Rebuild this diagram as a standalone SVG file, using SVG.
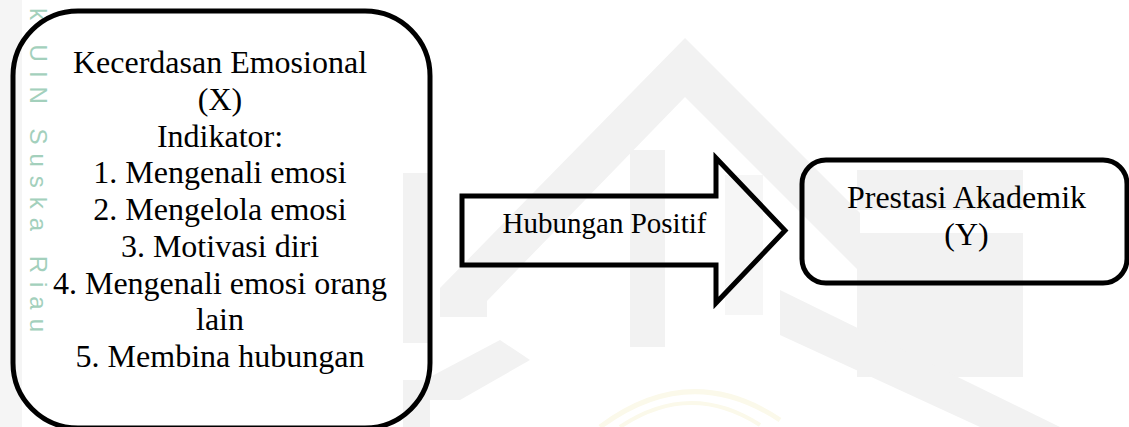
<svg xmlns="http://www.w3.org/2000/svg" width="1129" height="427" viewBox="0 0 1129 427">
  <style>
    .box { fill: none; stroke: #000; stroke-width: 5; }
    .t { font-family: "Liberation Serif", "Times New Roman", serif; font-size: 32px; fill: #000; text-anchor: middle; }
    .wm { fill: #f2f2f2; }
    .wmtext { font-family: "Liberation Sans", Arial, sans-serif; font-size: 24px; fill: #a3d0bc; }
  </style>
  <rect width="1129" height="427" fill="#fff"/>
  <g id="watermark">
    <rect x="0" y="0" width="22" height="427" fill="#f5f5f5"/>
    <polygon class="wm" points="685,38 860,213 860,272 685,97 487,301 487,317 440,317 440,288"/>
    <rect class="wm" x="630" y="150" width="35" height="197"/>
    <rect x="725" y="175" width="38" height="140" fill="#f6f6f6"/>
    <rect class="wm" x="857" y="170" width="166" height="40"/>
    <rect class="wm" x="857" y="233" width="166" height="144"/>
    <polygon class="wm" points="780,290 1060,427 980,427 780,335"/>
    <rect class="wm" x="403" y="173" width="27" height="170"/>
    <rect class="wm" x="403" y="380" width="27" height="47"/>
    <polygon class="wm" points="430,377 500,340 530,360 460,400 430,400"/>
    <path d="M600,427 Q690,360 780,420" fill="none" stroke="#fbf9ea" stroke-width="5"/>
    <path d="M620,427 Q690,380 760,425" fill="none" stroke="#fbf9ea" stroke-width="4"/>
    <text class="wmtext" transform="translate(30,8) rotate(90)" textLength="324" lengthAdjust="spacing">k UIN Suska Riau</text>
  </g>
  <g id="connectors">
    <g id="arrow-hubungan">
      <path class="box" d="M462,196 H716 V158 L785,230.5 L716,303 V265 H462 Z" stroke-linejoin="miter"/>
      <text class="t" x="604.5" y="233" style="font-size:29px">Hubungan Positif</text>
    </g>
  </g>
  <g id="node-x">
    <rect class="box" x="13" y="11" width="417" height="417" rx="65" ry="65"/>
    <text class="t" x="220" y="73">Kecerdasan Emosional</text>
    <text class="t" x="220" y="109.75">(X)</text>
    <text class="t" x="220" y="146.5">Indikator:</text>
    <text class="t" x="220" y="183.25">1. Mengenali emosi</text>
    <text class="t" x="220" y="220">2. Mengelola emosi</text>
    <text class="t" x="220" y="256.75">3. Motivasi diri</text>
    <text class="t" x="220" y="293.5">4. Mengenali emosi orang</text>
    <text class="t" x="220" y="330.25">lain</text>
    <text class="t" x="220" y="367">5. Membina hubungan</text>
  </g>
  <g id="node-y">
    <rect class="box" x="802" y="160" width="325" height="123" rx="24" ry="24"/>
    <text class="t" x="966.5" y="208">Prestasi Akademik</text>
    <text class="t" x="966.5" y="245">(Y)</text>
  </g>
</svg>
